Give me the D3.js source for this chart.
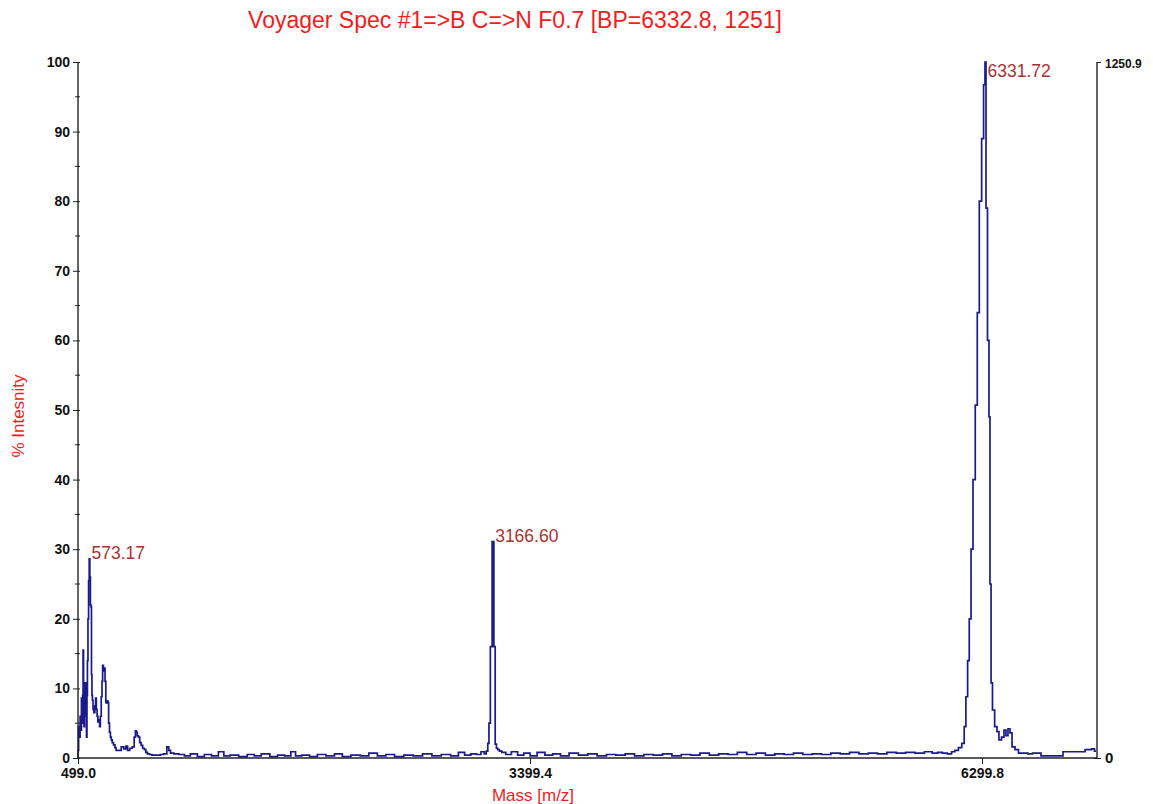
<!DOCTYPE html>
<html>
<head>
<meta charset="utf-8">
<title>Voyager Spec</title>
<script src="https://cdn.jsdelivr.net/npm/d3@7"></script>
<style>
	html, body { margin: 0; padding: 0; background: #fff; }
	svg { display: block; font-family: "Liberation Sans", Arial, sans-serif; }
</style>
</head>
<body>
<svg id="chart"></svg>
<script>
;(() => {
	'use strict';

	/* globals d3 */

	// spectrum as [mass, % intensity]
	const lowMassRegion = [
		[499, 0], [501, 1.1], [505, 4.5], [510, 3], [515, 6], [519, 4], [523, 8.6], [527, 5],
		[530, 9], [533, 15.5], [536, 7], [539, 4.5], [543, 8], [548, 10.8], [552, 6], [555, 3],
		[558, 9], [561, 14], [565, 20], [569, 25.5], [573, 28.6], [577, 26], [580, 22], [584, 21.7],
		[587, 12], [590, 9], [593, 8.3], [598, 7], [604, 6.5], [610, 7.5], [614, 8.6], [619, 7],
		[624, 6], [629, 5.2], [635, 5.5], [640, 4.5], [645, 6], [651, 8.8], [655, 11], [659, 13.3],
		[665, 12.5], [670, 12.9], [675, 11], [680, 8], [683, 7.9], [688, 8.2], [693, 8], [698, 5],
		[704, 3.7], [710, 3], [715, 2.6], [722, 2.2], [732, 1.9], [740, 1.5], [747, 1.1], [768, 1.1],
		[785, 1.6], [801, 1.3], [812, 1.7], [822, 1.1], [840, 1.4], [854, 1.6], [865, 3], [870, 3.9],
		[876, 3.7], [883, 3.2], [890, 3], [900, 2.2], [908, 1.8], [920, 1.4], [929, 1.2], [940, 0.8],
		[950, 0.6], [965, 0.5], [982, 0.4], [1000, 0.4], [1020, 0.4], [1036, 0.5], [1060, 0.6],
		[1078, 1.6], [1085, 1.1], [1100, 0.7], [1130, 0.6]
	];

	const baselineLeft = [
		[1164, 0.5], [1200, 0.3], [1240, 0.6], [1290, 0.2], [1330, 0.5], [1380, 0.3], [1420, 0.9],
		[1450, 0.3], [1500, 0.4], [1560, 0.2], [1610, 0.5], [1650, 0.3], [1700, 0.6], [1760, 0.2],
		[1800, 0.4], [1850, 0.3], [1880, 0.9], [1910, 0.3], [1960, 0.4], [2010, 0.2], [2060, 0.5],
		[2120, 0.3], [2170, 0.6], [2220, 0.2], [2280, 0.4], [2340, 0.3], [2390, 0.7], [2450, 0.3],
		[2500, 0.5], [2560, 0.2], [2620, 0.4], [2680, 0.3], [2740, 0.6], [2800, 0.3], [2860, 0.5],
		[2920, 0.3], [2960, 0.8], [3000, 0.4], [3040, 0.6], [3070, 0.5], [3100, 0.9]
	];

	const peakMidRegion = [
		[3112, 0.6], [3125, 1.0], [3132, 2.1], [3140, 5], [3150, 16], [3163, 31.1], [3172, 16],
		[3180, 2.0], [3188, 1.4], [3196, 1.2], [3210, 1.0], [3228, 0.8]
	];

	const baselineRight = [
		[3260, 0.5], [3300, 0.9], [3340, 0.4], [3380, 0.7], [3420, 0.3], [3470, 0.8], [3520, 0.4],
		[3570, 0.6], [3620, 0.3], [3680, 0.7], [3740, 0.4], [3800, 0.6], [3860, 0.3], [3920, 0.5],
		[3980, 0.4], [4040, 0.6], [4100, 0.3], [4160, 0.5], [4220, 0.4], [4280, 0.6], [4340, 0.3],
		[4400, 0.5], [4460, 0.4], [4520, 0.7], [4580, 0.4], [4640, 0.6], [4700, 0.5], [4760, 0.8],
		[4820, 0.5], [4880, 0.7], [4940, 0.4], [5000, 0.6], [5060, 0.5], [5120, 0.7], [5180, 0.5],
		[5240, 0.6], [5300, 0.5], [5360, 0.7], [5420, 0.6], [5480, 0.8], [5540, 0.6], [5600, 0.7],
		[5660, 0.6], [5720, 0.8], [5780, 0.7], [5840, 0.8], [5900, 0.7], [5960, 0.9], [6000, 0.7]
	];

	const peakHighRegion = [
		[6030, 0.8], [6060, 0.7], [6094, 0.6], [6115, 0.9], [6137, 1.1], [6160, 1.5], [6180, 2.1],
		[6191, 4.5], [6202, 8.8], [6213, 14], [6223, 20], [6236, 30], [6248, 40], [6265, 50.7],
		[6274, 64], [6291, 80], [6304, 89], [6316, 96.7], [6322, 100], [6329, 79], [6341, 60],
		[6348, 49], [6354, 25], [6362, 10.8], [6372, 6.9], [6390, 4.5], [6402, 3.8], [6415, 2.6],
		[6435, 3.0], [6447, 4.0], [6460, 3.2], [6473, 4.2], [6486, 3.6], [6499, 1.6], [6524, 1.2],
		[6544, 0.7], [6580, 0.7], [6608, 0.6], [6640, 0.7], [6672, 0.7], [6685, 0.3], [6720, 0.3],
		[6768, 0.3], [6800, 0.3], [6839, 0.9], [6900, 0.9], [6929, 0.9], [6993, 1.2], [7012, 1.3],
		[7031, 1.0]
	];

	// peak annotations
	const peakMasses = [573.17, 3166.60, 6331.72],
		peakLabels = ['573.17', '3166.60', '6331.72'];

	// axes
	const massDomain = [499.0, 7037.7],
		massTicks = [499.0, 3399.4, 6299.8],
		intensityTicks = [0, 10, 20, 30, 40, 50, 60, 70, 80, 90, 100],
		intensityMinorTicks = [5, 15, 25, 35, 45, 55, 65, 75, 85, 95],
		countsDomain = [0, 1250.9],
		countsTicks = [0, 1250.9];

	const titleText = 'Voyager Spec #1=>B C=>N F0.7 [BP=6332.8, 1251]',
		xLabel = 'Mass [m/z]',
		yLabel = '% Intesnity';

	const width = 1153,
		height = 804,
		margin = {top: 62, right: 56, bottom: 46, left: 78},
		traceColor = '#1a1a8c',
		labelRed = '#f41c1c',
		peakRed = '#a83232';

	const spectrum = [].concat(lowMassRegion, baselineLeft, peakMidRegion, baselineRight, peakHighRegion);

	const x = d3.scaleLinear().domain(massDomain).range([margin.left, width - margin.right]),
		y = d3.scaleLinear().domain([0, 100]).range([height - margin.bottom, margin.top]),
		yCounts = d3.scaleLinear().domain(countsDomain).range([height - margin.bottom, margin.top]);

	const svg = d3.select('#chart')
		.attr('width', width)
		.attr('height', height);


	/**
	* draw the spectrum trace
	*/
	const drawTrace = function() {
		const line = d3.line()
			.x((d) => x(d[0]))
			.y((d) => y(d[1]))
			.curve(d3.curveStep);

		svg.append('path')
			.datum(spectrum)
			.attr('d', line)
			.attr('fill', 'none')
			.attr('stroke', traceColor)
			.attr('stroke-width', 1.7)
			.attr('stroke-linejoin', 'miter');
	};


	/**
	* draw the axes and their labels
	*/
	const drawAxes = function() {
		const left = svg.append('g')
			.attr('transform', `translate(${margin.left},0)`)
			.call(d3.axisLeft(y).tickValues(intensityTicks).tickFormat(d3.format('d')).tickSize(5).tickPadding(3));

		left.selectAll('.tick')
			.append('line')
			.attr('x2', 2)
			.attr('stroke', '#222');

		left.selectAll('.minor')
			.data(intensityMinorTicks)
			.enter()
			.append('line')
			.attr('class', 'minor')
			.attr('x1', -3)
			.attr('x2', 2)
			.attr('y1', (d) => y(d))
			.attr('y2', (d) => y(d))
			.attr('stroke', '#222');

		const bottom = svg.append('g')
			.attr('transform', `translate(0,${height - margin.bottom})`)
			.call(d3.axisBottom(x).tickValues(massTicks).tickFormat(d3.format('.1f')).tickSize(6).tickPadding(4));

		const right = svg.append('g')
			.attr('transform', `translate(${width - margin.right},0)`)
			.call(d3.axisRight(yCounts).tickValues(countsTicks).tickFormat((d) => d === 0 ? '0' : d3.format('.1f')(d)).tickSize(4).tickPadding(4));

		right.selectAll('.tick')
			.filter((d) => d === 0)
			.select('line')
			.attr('x1', -3);

		right.selectAll('.tick')
			.filter((d) => d === 0)
			.select('text')
			.style('font-size', '15px');

		[left, bottom, right].forEach((g) => {
			g.select('.domain')
				.attr('stroke', '#222')
				.attr('stroke-width', 1.4);
			g.selectAll('.tick line').attr('stroke', '#222');
			g.selectAll('text')
				.attr('fill', '#111')
				.style('font-family', '"Liberation Sans", Arial, sans-serif')
				.style('font-weight', 'bold');
		});

		left.selectAll('text').style('font-size', '14px');
		bottom.selectAll('text').style('font-size', '14px');
		right.selectAll('.tick')
			.filter((d) => d !== 0)
			.select('text')
			.style('font-size', '12px')
			.attr('dy', '0.45em');

		// trim the outer ticks d3 adds to the domain paths
		right.select('.domain').attr('d', `M0,${yCounts(countsDomain[1])}V${yCounts(0)}`);
		left.select('.domain').attr('d', `M0,${y(100)}V${y(0)}`);
		bottom.select('.domain').attr('d', `M${x(massDomain[0])},0H${x(massDomain[1])}`);
	};


	/**
	* peak labels at the local maxima
	*/
	const drawPeakLabels = function() {
		const labels = peakMasses.map((m, i) => {
			const near = spectrum.filter((d) => Math.abs(d[0] - m) < 40),
				top = near.reduce((a, b) => (b[1] > a[1] ? b : a));
			return {mass: top[0], value: top[1], text: peakLabels[i]};
		});

		svg.selectAll('.peak-label')
			.data(labels)
			.enter()
			.append('text')
			.attr('class', 'peak-label')
			.attr('x', (d) => x(d.mass) + 2)
			.attr('y', (d) => Math.max(y(d.value), margin.top + 15))
			.attr('fill', peakRed)
			.style('font-size', '17.5px')
			.text((d) => d.text);
	};


	/**
	* titles
	*/
	const drawTitles = function() {
		svg.append('text')
			.attr('x', 515)
			.attr('y', 28)
			.attr('text-anchor', 'middle')
			.attr('fill', labelRed)
			.style('font-size', '23px')
			.text(titleText);

		svg.append('text')
			.attr('x', 533)
			.attr('y', 801)
			.attr('text-anchor', 'middle')
			.attr('fill', labelRed)
			.style('font-size', '17px')
			.text(xLabel);

		svg.append('text')
			.attr('transform', `translate(24,${(margin.top + height - margin.bottom) / 2 + 6}) rotate(-90)`)
			.attr('text-anchor', 'middle')
			.attr('fill', labelRed)
			.style('font-size', '17px')
			.text(yLabel);
	};


	const init = function() {
		drawTrace();
		drawAxes();
		drawPeakLabels();
		drawTitles();
	};

	init();

})();
</script>
</body>
</html>
